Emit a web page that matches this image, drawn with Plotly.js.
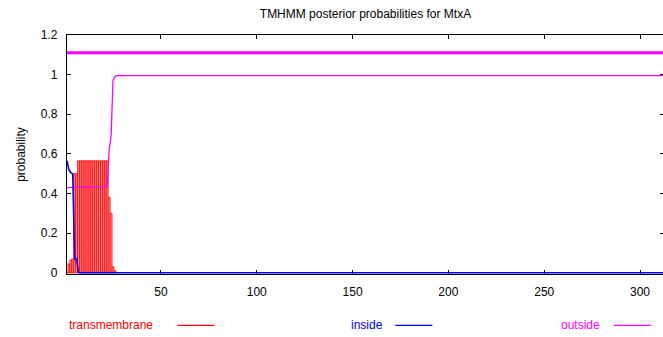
<!DOCTYPE html>
<html>
<head>
<meta charset="utf-8">
<script src="https://cdn.plot.ly/plotly-3.0.1.min.js"></script>
<style>
html,body{margin:0;padding:0;overflow:hidden;background:#fff;width:663px;height:337px;}
#chart{width:664px;height:337px;}
</style>
</head>
<body>
<div id="chart"></div>
<script>
// Transmembrane posterior probability (impulses), residues 1..26 (zero elsewhere)
const tmPos = [1,2,3,4,5,6,7,8,9,10,11,12,13,14,15,16,17,18,19,20,21,22,23,24,25,26];
const tmProb = [0.005,0.045,0.065,0.07,0.50,0.50,0.565,0.565,0.565,0.565,0.565,0.565,0.565,0.565,0.565,0.565,0.565,0.565,0.565,0.565,0.565,0.565,0.38,0.30,0.03,0.01];
// Inside probability (line)
const inPos = [1,2,3,4,5,6,7,312];
const inProb = [0.565,0.52,0.505,0.50,0.07,0.07,0.0,0.0];
// Outside probability (line)
const outPos = [1,22,23,24,25,26,27,312];
const outProb = [0.43,0.435,0.62,0.69,0.97,0.99,0.995,0.995];
// Predicted topology line (outside over whole sequence)
const topoPos = [1,312.5];
const topoLevel = [1.11,1.11];
const seqLength = 312.5;

const xTicks = [50,100,150,200,250,300];
const yTicks = [0,0.2,0.4,0.6,0.8,1,1.2];
const yTickText = ['0','0.2','0.4','0.6','0.8','1','1.2'];

const RED='#ff0000', BLUE='#0000ff', MAG='#ff00ff';
const FONT='Liberation Sans, Arial, sans-serif';

const traces = [
  {type:'bar', x:tmPos, y:tmProb, width:1, marker:{color:'#ff9090', line:{width:0.8, color:RED}}, showlegend:false, hoverinfo:'skip'},
  {type:'scatter', mode:'lines', x:outPos, y:outProb, line:{color:MAG, width:1.3}, showlegend:false},
  {type:'scatter', mode:'lines', x:inPos, y:inProb, line:{color:BLUE, width:1.6}, showlegend:false},
  {type:'scatter', mode:'lines', x:topoPos, y:topoLevel, line:{color:MAG, width:3}, showlegend:false}
];

const legendItems = [
  {label:'transmembrane', color:RED, tx:0.0, lx0:0.185, lx1:0.247},
  {label:'inside', color:BLUE, tx:0.473, lx0:0.550, lx1:0.612},
  {label:'outside', color:MAG, tx:0.824, lx0:0.916, lx1:0.978}
];
const annotations = legendItems.map(it => ({
  xref:'paper', yref:'paper', x:it.tx, y:-0.215, xanchor:'left', yanchor:'middle',
  text:it.label, showarrow:false, font:{family:FONT, size:12, color:it.color}
}));
const shapes = legendItems.map(it => ({
  type:'line', xref:'paper', yref:'paper', x0:it.lx0, x1:it.lx1, y0:-0.215, y1:-0.215,
  line:{color:it.color, width:1.2}
}));

const layout = {
  width:664, height:337,
  margin:{l:67, r:0, t:35, b:63},
  paper_bgcolor:'#fff', plot_bgcolor:'#fff',
  font:{family:FONT, size:12, color:'#000'},
  title:{text:'TMHMM posterior probabilities for MtxA', x:0.5, xref:'paper', y:0.96, yanchor:'middle', font:{family:FONT, size:12, color:'#000'}},
  bargap:0,
  xaxis:{range:[1, seqLength], tickvals:xTicks, ticks:'inside', ticklen:4, tickcolor:'#000',
         showline:true, linecolor:'#000', linewidth:1.2, mirror:'ticks', showgrid:false, zeroline:false,
         layer:'below traces',
         ticklabelstandoff:6, tickfont:{family:FONT, size:12, color:'#000'}},
  yaxis:{range:[-0.006,1.2], tickvals:yTicks, ticktext:yTickText, ticks:'inside', ticklen:4, tickcolor:'#000',
         showline:true, linecolor:'#000', linewidth:1.2, mirror:'ticks', showgrid:false, zeroline:false,
         layer:'below traces',
         ticklabelstandoff:6, tickfont:{family:FONT, size:12, color:'#000'},
         title:{text:'probability', standoff:12, font:{family:FONT, size:12, color:'#000'}}},
  annotations:annotations,
  shapes:shapes
};

Plotly.newPlot('chart', traces, layout, {displayModeBar:false, staticPlot:true});
</script>
</body>
</html>
